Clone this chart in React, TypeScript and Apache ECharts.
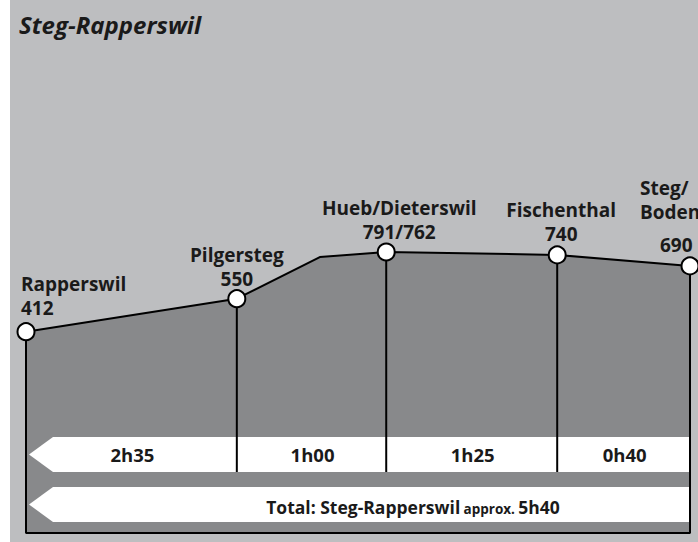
import React, { useEffect, useRef } from "react";
import * as echarts from "echarts";

// Profile (distance in km along the route, plotted elevation in m)
const profileDist = [0, 6.35, 8.85, 10.85, 16.0, 20.0];
const profileElev = [412, 550, 724, 745, 733, 687];

// Stations (index into the profile)
const stationIdx = [0, 1, 3, 4, 5];
const stationNames = ["Rapperswil", "Pilgersteg", "Hueb/Dieterswil", "Fischenthal", "Steg/\nBoden"];
const stationElevLabels = ["412", "550", "791/762", "740", "690"];

// Walking times between consecutive stations
const segmentTimes = ["2h35", "1h00", "1h25", "0h40"];
const totalPrefix = "Total: Steg-Rapperswil";
const totalApprox = "approx.";
const totalTime = "5h40";
const titleText = "Steg-Rapperswil";

// label layout (styling, not data)
const labelLayout = [
  { align: "left", dx: -5, dy: -36, lh: 24 },
  { align: "center", dx: 0, dy: -32, lh: 24 },
  { align: "center", dx: 13, dy: -32, lh: 23.5 },
  { align: "center", dx: 4, dy: -33, lh: 23.5 },
  { align: "left", dx: -50, dy: -45, lh: 24 },
];

const FONT = '"Open Sans", "Noto Sans", sans-serif';
const INK = "#1a1a1a";
const LABEL_SIZE = 19;

export default function App() {
  const ref = useRef<HTMLDivElement>(null);
  useEffect(() => {
    if (!ref.current) return;
    const chart = echarts.init(ref.current, null, { renderer: "svg" });

    const profile = profileDist.map((d, i) => [d, profileElev[i]]);
    const xMin = profileDist[0];
    const xMax = profileDist[profileDist.length - 1];
    const yMin = -430;
    const yMax = 1630;

    const stations = stationIdx.map((pi, k) => {
      const L = labelLayout[k];
      const last = k === stationIdx.length - 1;
      return {
        value: [profileDist[pi], profileElev[pi]],
        label: {
          show: true,
          position: "inside",
          align: L.align,
          verticalAlign: "middle",
          offset: [L.dx, L.dy],
          formatter: () => {
            const nameLines = stationNames[k].split("\n").map((s) => `{n|${s}}`).join("\n");
            return `${nameLines}\n{${last ? "e2" : "e"}|${stationElevLabels[k]}}`;
          },
          rich: {
            n: { fontFamily: FONT, fontWeight: "bold", fontSize: LABEL_SIZE, lineHeight: L.lh, color: INK },
            e: { fontFamily: FONT, fontWeight: "bold", fontSize: LABEL_SIZE, lineHeight: L.lh, color: INK },
            e2: {
              fontFamily: FONT,
              fontWeight: "bold",
              fontSize: LABEL_SIZE,
              lineHeight: 42,
              color: INK,
              padding: [0, 0, 0, 20],
            },
          },
        },
      };
    });

    const innerStems = stationIdx.slice(1, -1).map((pi) => [profileDist[pi], profileElev[pi]]);
    const segments = stationIdx.slice(0, -1).map((pi, k) => [profileDist[pi], profileDist[stationIdx[k + 1]]]);

    const frame = [
      [xMin, profileElev[0]],
      [xMin, yMin],
      [xMax, yMin],
      [xMax, profileElev[profileElev.length - 1]],
    ];

    const ROW1_TOP = 437;
    const ROW1_BOT = 472;
    const ROW2_TOP = 487;
    const ROW2_BOT = 522;
    const TIP_X = 29;
    const SHOULDER_X = 53;
    const RIGHT_X = 690;

    const ribbon = (t: number, b: number) => ({
      type: "polygon",
      z: 2,
      shape: {
        points: [
          [TIP_X, (t + b) / 2],
          [SHOULDER_X, t],
          [RIGHT_X, t],
          [RIGHT_X, b],
          [SHOULDER_X, b],
        ],
      },
      style: { fill: "#ffffff" },
    });

    chart.setOption({
      animation: false,
      backgroundColor: "#bdbec0",
      title: {
        text: titleText,
        left: 19,
        top: 12,
        padding: 0,
        textStyle: {
          fontFamily: FONT,
          fontStyle: "italic",
          fontWeight: "bold",
          fontSize: 24,
          color: INK,
        },
      },
      grid: { left: 26, right: 8, top: 40.4, bottom: 9, containLabel: false },
      xAxis: { type: "value", min: xMin, max: xMax, show: false },
      yAxis: { type: "value", min: yMin, max: yMax, show: false },
      graphic: [
        { type: "rect", z: 0, shape: { x: 0, y: 0, width: 10, height: 542 }, style: { fill: "#ffffff" } },
        ribbon(ROW1_TOP, ROW1_BOT),
        ribbon(ROW2_TOP, ROW2_BOT),
        {
          type: "text",
          z: 6,
          x: 413,
          y: (ROW2_TOP + ROW2_BOT) / 2,
          style: {
            text: `{a|${totalPrefix}} {s|${totalApprox}} {a|${totalTime}}`,
            align: "center",
            verticalAlign: "middle",
            rich: {
              a: { fontFamily: FONT, fontWeight: "bold", fontSize: 17.5, lineHeight: 22, verticalAlign: "bottom", fill: INK },
              s: { fontFamily: FONT, fontWeight: "bold", fontSize: 13.5, lineHeight: 20, verticalAlign: "bottom", fill: INK },
            },
          },
        },
      ],
      series: [
        {
          type: "line",
          z: 1,
          data: profile,
          showSymbol: false,
          symbol: "none",
          lineStyle: { color: "#000", width: 2 },
          areaStyle: { color: "#88898b", opacity: 1, origin: "start" },
          silent: true,
        },
        {
          type: "line",
          z: 3,
          data: frame,
          showSymbol: false,
          symbol: "none",
          lineStyle: { color: "#000", width: 2 },
          silent: true,
        },
        {
          type: "custom",
          z: 3,
          data: innerStems,
          clip: false,
          silent: true,
          renderItem: (params: any, api: any) => {
            const p = api.coord([api.value(0), api.value(1)]);
            return {
              type: "line",
              shape: { x1: p[0], y1: p[1], x2: p[0], y2: ROW1_BOT },
              style: { stroke: "#000", lineWidth: 2 },
            };
          },
        },
        {
          type: "custom",
          z: 4,
          data: segments,
          clip: false,
          silent: true,
          renderItem: (params: any, api: any) => {
            const a = api.coord([api.value(0), 0]);
            const b = api.coord([api.value(1), 0]);
            return {
              type: "text",
              x: (a[0] + b[0]) / 2 + 1,
              y: (ROW1_TOP + ROW1_BOT) / 2,
              style: {
                text: segmentTimes[params.dataIndex],
                fontFamily: FONT,
                fontWeight: "bold",
                fontSize: 18.5,
                fill: INK,
                align: "center",
                verticalAlign: "middle",
              },
            };
          },
        },
        {
          type: "scatter",
          z: 5,
          data: stations,
          symbol: "circle",
          symbolSize: 17,
          itemStyle: { color: "#ffffff", borderColor: "#000", borderWidth: 2, opacity: 1 },
          silent: true,
        },
      ],
    });
    return () => chart.dispose();
  }, []);
  return (
    <div
      ref={ref}
      style={{ position: "fixed", left: 0, top: 0, width: 698, height: 542 }}
    />
  );
}
